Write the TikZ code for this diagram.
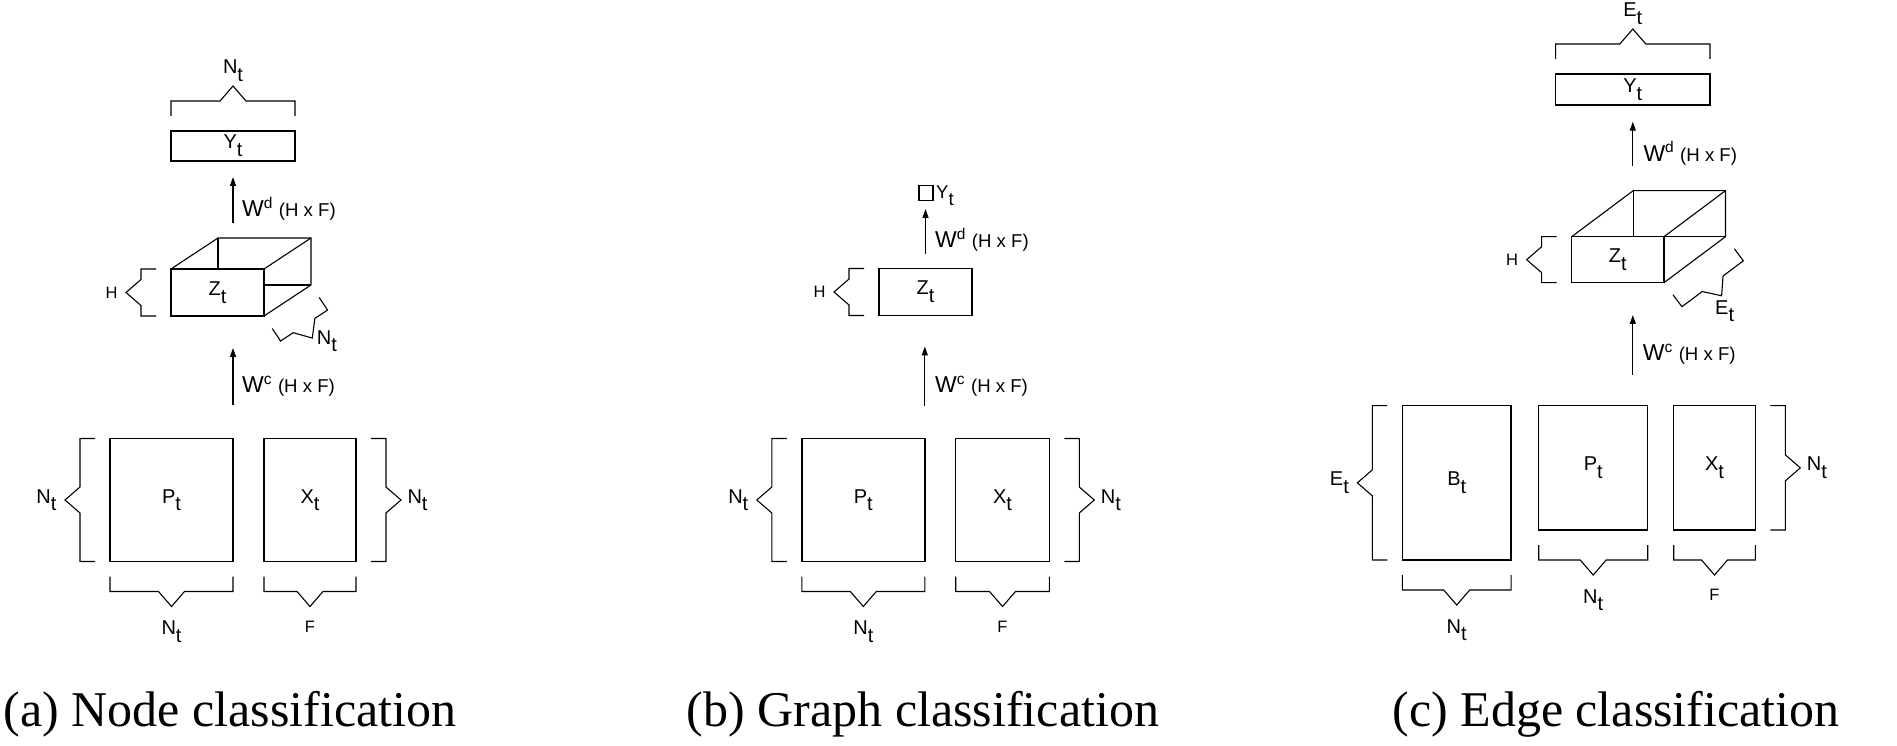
\documentclass[tikz,border=0pt]{standalone}
\usepackage{fontspec}
\setmainfont{Liberation Sans}
\newfontfamily\capfont{Liberation Serif}
\usetikzlibrary{arrows.meta,positioning,calc}

% brace geometry
\newcommand{\brgap}{15pt}
\newcommand{\brtip}{15pt}
\newcommand{\brdep}{15pt}
\newcommand{\brhw}{13pt}
% letter with lowered t, weight label
\newcommand{\sbt}[1]{#1\raisebox{-0.38em}{t}}
\newcommand{\wlab}[1]{W\raisebox{0.39em}{\fontsize{15.5}{17}\selectfont #1} {\fontsize{18.6}{20}\selectfont(H x F)}}

\begin{document}
\begin{tikzpicture}[x=1pt,y=1pt,>={Triangle[length=9pt,width=6pt]},
  box/.style={draw,line width=1.4pt,inner sep=0pt,outer sep=0pt,font={\fontsize{20}{22}\selectfont}},
  edge3d/.style={line width=1.1pt},
  arr/.style={->,line width=1.3pt},
  wl/.style={anchor=base west,inner sep=0pt,font={\fontsize{23}{25}\selectfont}},
  nl/.style={inner sep=0pt,font={\fontsize{20}{22}\selectfont}},
  sl/.style={inner sep=0pt,font={\fontsize{16.5}{18}\selectfont}},
  lb/.style={pos=1,anchor=north,yshift=-14pt},
  ll/.style={pos=1,anchor=east,xshift=-8pt},
  lr/.style={pos=1,anchor=west,xshift=6pt},
  lt/.style={pos=1,anchor=south,yshift=4pt},
  capt/.style={anchor=base,inner sep=0pt,font={\capfont\fontsize{50}{60}\selectfont}},
  brc/.style={line width=1.1pt,to path={
    let \p1=(\tikztostart), \p2=(\tikztotarget),
        \n1={atan2(\y2-\y1,\x2-\x1)}, \n2={veclen(\x2-\x1,\y2-\y1)} in
    ++(\n1-90:\brgap) -- ++(\n1-90:\brtip) -- ++(\n1:\n2/2-\brhw)
    -- ++($(\n1:\brhw)+(\n1-90:\brdep)$) \tikztonodes
    -- ++($(\n1:\brhw)+(\n1+90:\brdep)$) -- ++(\n1:\n2/2-\brhw)
    -- ++(\n1+90:\brtip)}}]
\useasboundingbox (0,0) rectangle (1897,745);

% (a) node classification
\node[box,minimum width=124,minimum height=30] (Ya) at (233,599) {\sbt{Y}};
\draw[brc] (Ya.north east) to node[nl,lt] (Ya-n) {\sbt{N}} (Ya.north west);
\node[box,minimum width=93,minimum height=47] (Za) at (217.5,452.5) {\sbt{Z}};
\draw[edge3d] (Za.north west) -- ++(47,31) coordinate (Za-b) -- ++(93,0) coordinate (Za-c)
  -- ++(0,-47) coordinate (Za-d) -- (Za.south east);
\draw[edge3d] (Za.north east) -- (Za-c);
\draw[edge3d] (Za-b) -- (Za-b |- Za.north);
\draw[edge3d] (Za-d) -- (Za-d -| Za.east);
\draw[brc] (Za.north west) to node[sl,ll] (Za-h) {H} (Za.south west);
\draw[brc] (Za.south east) to node[nl,pos=1,anchor=west,xshift=4pt,yshift=-3pt] (Za-n) {\sbt{N}} (Za-d);
\node[box,minimum width=123,minimum height=123] (Pa) at (171.5,245) {\sbt{P}};
\node[box,minimum width=92,minimum height=123] (Xa) at (310,245) {\sbt{X}};
\draw[brc] (Pa.north west) to node[nl,ll] (Pa-l) {\sbt{N}} (Pa.south west);
\draw[brc] (Pa.south west) to node[nl,lb] (Pa-b) {\sbt{N}} (Pa.south east);
\draw[brc] (Xa.south west) to node[sl,lb] (Xa-b) {F} (Xa.south east);
\draw[brc] (Xa.south east) to node[nl,lr] (Xa-r) {\sbt{N}} (Xa.north east);
\draw[arr,shorten <=33pt,shorten >=32pt] (Pa.north east) -- (Pa.north east |- Za.south);
\draw[arr,shorten <=15pt,shorten >=16pt] (Ya.south |- Za-b) -- (Ya.south);
\node[wl] (Wca) at (242,352) {\wlab{c}};
\node[wl] (Wda) at (242,528) {\wlab{d}};

% (b) graph classification
\node[box,minimum width=14,minimum height=15] (Yb) at (926,552) {};
\node[inner sep=0pt,anchor=base west,font={\fontsize{18.5}{20}\selectfont}] (Yb-l) at ([xshift=3pt,yshift=-5.5pt]Yb.east) {\sbt{Y}};
\node[box,minimum width=93,minimum height=47] (Zb) at (925.5,453) {\sbt{Z}};
\draw[brc] (Zb.north west) to node[sl,ll] (Zb-h) {H} (Zb.south west);
\node[box,minimum width=123,minimum height=123] (Pb) at (863.3,245) {\sbt{P}};
\node[box,minimum width=93.6,minimum height=123] (Xb) at (1002.5,245) {\sbt{X}};
\draw[brc] (Pb.north west) to node[nl,ll] (Pb-l) {\sbt{N}} (Pb.south west);
\draw[brc] (Pb.south west) to node[nl,lb] (Pb-b) {\sbt{N}} (Pb.south east);
\draw[brc] (Xb.south west) to node[sl,lb] (Xb-b) {F} (Xb.south east);
\draw[brc] (Xb.south east) to node[nl,lr] (Xb-r) {\sbt{N}} (Xb.north east);
\draw[arr,shorten <=32pt,shorten >=31pt] (Pb.north east) -- (Pb.north east |- Zb.south);
\draw[arr,shorten <=14.5pt,shorten >=8.5pt] (Zb.north) -- (Zb.north |- Yb.south);
\node[wl] (Wcb) at (935,352) {\wlab{c}};
\node[wl] (Wdb) at (935,497) {\wlab{d}};

% (c) edge classification
\node[box,minimum width=154.3,minimum height=31] (Yc) at (1632.8,655.5) {\sbt{Y}};
\draw[brc] (Yc.north east) to node[nl,lt] (Yc-n) {\sbt{E}} (Yc.north west);
\node[box,minimum width=92.3,minimum height=46] (Zc) at (1617.8,485.3) {\sbt{Z}};
\draw[edge3d] (Zc.north west) -- ++(61.5,46) coordinate (Zc-b) -- ++(92.3,0) coordinate (Zc-c)
  -- ++(0,-46) coordinate (Zc-d) -- (Zc.south east);
\draw[edge3d] (Zc.north east) -- (Zc-c);
\draw[edge3d] (Zc-b) -- (Zc-b |- Zc.north);
\draw[edge3d] (Zc-d) -- (Zc-d -| Zc.east);
\draw[brc] (Zc.north west) to node[sl,ll] (Zc-h) {H} (Zc.south west);
\draw[brc] (Zc.south east) to node[nl,pos=1,anchor=north,xshift=3pt,yshift=-4pt] (Zc-e) {\sbt{E}} (Zc-d);
\node[box,minimum width=108.7,minimum height=154.3] (Bc) at (1456.7,262.15) {\sbt{B}};
\node[box,minimum width=109,minimum height=124.3] (Pc) at (1593.2,277.15) {\sbt{P}};
\node[box,minimum width=81.6,minimum height=124.3] (Xc) at (1714.5,277.15) {\sbt{X}};
\draw[brc] (Bc.north west) to node[nl,ll] (Bc-l) {\sbt{E}} (Bc.south west);
\draw[brc] (Bc.south west) to node[nl,lb] (Bc-b) {\sbt{N}} (Bc.south east);
\draw[brc] (Pc.south west) to node[nl,lb] (Pc-b) {\sbt{N}} (Pc.south east);
\draw[brc] (Xc.south west) to node[sl,lb] (Xc-b) {F} (Xc.south east);
\draw[brc] (Xc.south east) to node[nl,lr] (Xc-r) {\sbt{N}} (Xc.north east);
\draw[arr,shorten <=30.7pt,shorten >=32.3pt] (Yc.south |- Pc.north) -- (Yc.south |- Zc.south);
\draw[arr,shorten <=24.7pt,shorten >=16.7pt] (Yc.south |- Zc-b) -- (Yc.south);
\node[wl] (Wcc) at (1642.7,384) {\wlab{c}};
\node[wl] (Wdc) at (1643.3,583.3) {\wlab{d}};

% captions
\node[capt] (capa) at (230,19) {(a) Node classification};
\node[capt] (capb) at (923,19) {(b) Graph classification};
\node[capt] (capc) at (1616,19) {(c) Edge classification};
\end{tikzpicture}
\end{document}
